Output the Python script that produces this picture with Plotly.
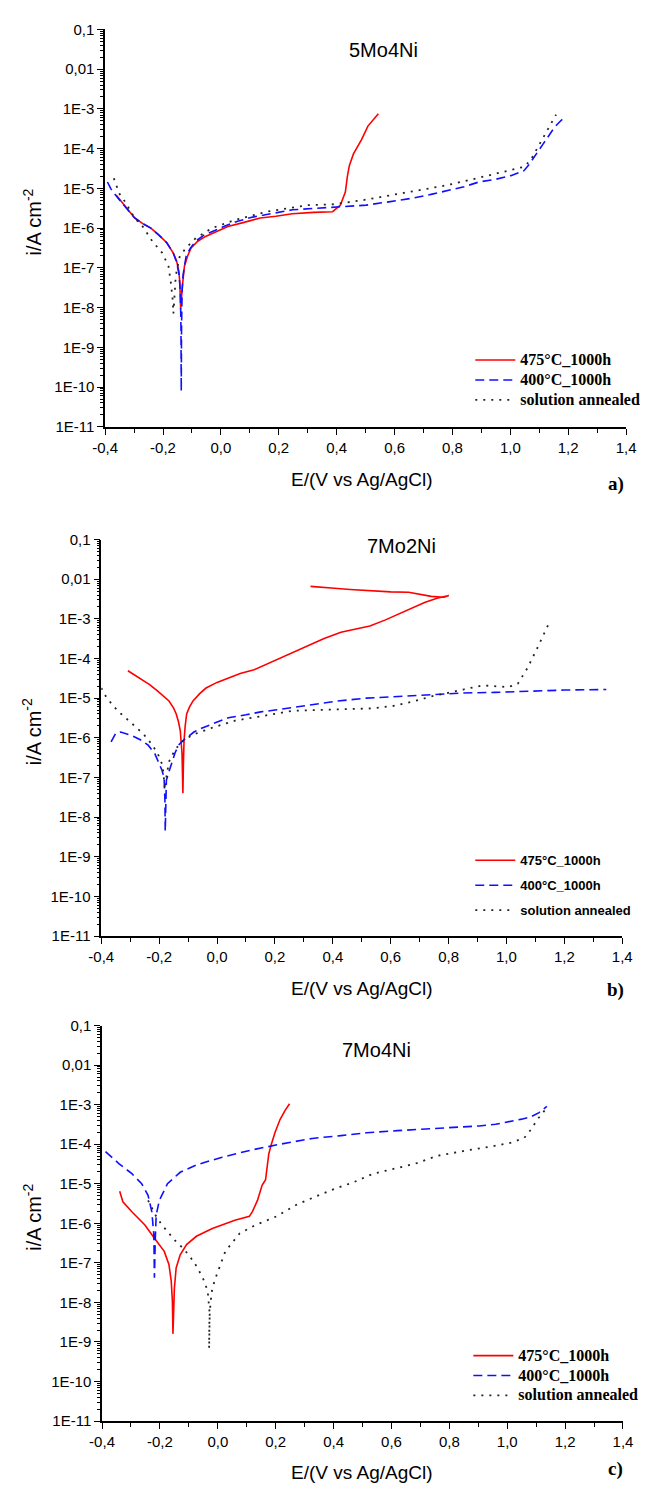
import plotly.graph_objects as go

# ---------------- data (E in V vs Ag/AgCl, i in A cm^-2) ----------------
# Panel a) 5Mo4Ni
E_a_475 = [-0.362, -0.330, -0.298, -0.270, -0.242, -0.215, -0.187, -0.165, -0.153, -0.145, -0.142, -0.139,
           -0.136, -0.133, -0.126, -0.115, -0.103, -0.080, -0.053, -0.015, 0.024, 0.080, 0.136, 0.190,
           0.247, 0.320, 0.386, 0.413, 0.430, 0.437, 0.444, 0.458, 0.472, 0.486, 0.508, 0.528, 0.544]
i_a_475 = [6.8e-6, 3.5e-6, 1.8e-6, 1.3e-6, 1.0e-6, 6.8e-7, 4.3e-7, 2.4e-7, 1.5e-7, 7.9e-8, 4.3e-8, 9.3e-9,
           2.0e-8, 3.5e-8, 1.1e-7, 2.0e-7, 3.2e-7, 4.7e-7, 6.2e-7, 8.3e-7, 1.1e-6, 1.4e-6, 1.8e-6, 2.0e-6,
           2.3e-6, 2.5e-6, 2.6e-6, 3.8e-6, 8.1e-6, 2.0e-5, 3.8e-5, 7.4e-5, 1.1e-4, 1.7e-4, 3.7e-4, 5.6e-4, 7.6e-4]

E_a_400 = [-0.392, -0.381, -0.362, -0.330, -0.298, -0.270, -0.242, -0.215, -0.187, -0.165, -0.153, -0.145,
           -0.140, -0.138, -0.137, -0.136, -0.134, -0.131, -0.126, -0.120, -0.105, -0.087, -0.060, -0.031,
           0.010, 0.058, 0.110, 0.158, 0.200, 0.247, 0.280, 0.340, 0.402, 0.502, 0.580, 0.669, 0.730,
           0.780, 0.840, 0.891, 0.950, 1.002, 1.047, 1.065, 1.080, 1.100, 1.113, 1.135, 1.152, 1.170, 1.186]
i_a_400 = [1.45e-5, 1.0e-5, 6.5e-6, 3.5e-6, 1.8e-6, 1.3e-6, 1.0e-6, 6.8e-7, 4.3e-7, 2.4e-7, 1.4e-7, 7.1e-8,
           2.5e-8, 3.2e-9, 7.9e-11, 3.2e-9, 2.5e-8, 6.3e-8, 1.1e-7, 2.0e-7, 3.2e-7, 4.7e-7, 6.6e-7, 8.3e-7,
           1.1e-6, 1.5e-6, 1.9e-6, 2.2e-6, 2.5e-6, 2.9e-6, 3.0e-6, 3.2e-6, 3.3e-6, 3.8e-6, 4.6e-6, 5.8e-6, 7.2e-6,
           8.9e-6, 1.1e-5, 1.45e-5, 1.7e-5, 2.1e-5, 2.8e-5, 4.0e-5, 6.0e-5, 9.5e-5, 1.3e-4, 2.2e-4, 3.4e-4, 4.7e-4, 6.0e-4]

E_a_sa = [-0.370, -0.362, -0.351, -0.331, -0.298, -0.270, -0.237, -0.203, -0.181, -0.173, -0.167, -0.164,
          -0.160, -0.156, -0.142, -0.120, -0.087, -0.031, 0.047, 0.158, 0.302, 0.391, 0.500, 0.613, 0.700,
          0.780, 0.870, 0.947, 1.000, 1.047, 1.069, 1.085, 1.102, 1.120, 1.136, 1.158]
i_a_sa = [1.8e-5, 1.26e-5, 7.4e-6, 4.6e-6, 1.8e-6, 1.1e-6, 4.7e-7, 2.4e-7, 1.1e-7, 4.3e-8, 1.7e-8, 7.1e-9,
          2.0e-8, 6.3e-8, 2.0e-7, 3.2e-7, 5.6e-7, 1.0e-6, 1.6e-6, 2.6e-6, 3.8e-6, 4.0e-6, 5.2e-6, 7.4e-6, 9.5e-6,
          1.2e-5, 1.7e-5, 2.3e-5, 2.8e-5, 3.5e-5, 5.0e-5, 7.9e-5, 1.3e-4, 2.2e-4, 3.7e-4, 7.2e-4]

# Panel b) 7Mo2Ni
E_b_475 = [-0.308, -0.285, -0.261, -0.233, -0.205, -0.185, -0.166, -0.150, -0.141, -0.133, -0.127, -0.121,
           -0.118, -0.116, -0.114, -0.110, -0.105, -0.095, -0.083, -0.060, -0.038, 0.000, 0.039, 0.080,
           0.128, 0.170, 0.217, 0.270, 0.317, 0.370, 0.428, 0.480, 0.528, 0.580, 0.628, 0.670, 0.717,
           0.760, 0.801, 0.784, 0.740, 0.700, 0.662, 0.600, 0.517, 0.460, 0.406, 0.360, 0.323]
i_b_475 = [4.9e-5, 3.8e-5, 3.0e-5, 2.2e-5, 1.5e-5, 1.15e-5, 8.5e-6, 5.6e-6, 4.0e-6, 2.5e-6, 1.5e-6, 4.0e-7,
           4.0e-8, 2.5e-7, 8.5e-7, 2.0e-6, 4.0e-6, 6.0e-6, 8.5e-6, 1.3e-5, 1.8e-5, 2.5e-5, 3.2e-5, 4.2e-5,
           5.2e-5, 7.1e-5, 1.0e-4, 1.5e-4, 2.2e-4, 3.2e-4, 4.6e-4, 5.5e-4, 6.6e-4, 9.3e-4, 1.35e-3, 1.8e-3, 2.6e-3,
           3.3e-3, 3.9e-3, 3.5e-3, 3.7e-3, 4.2e-3, 4.7e-3, 4.8e-3, 5.1e-3, 5.5e-3, 5.9e-3, 6.3e-3, 6.6e-3]

E_b_400 = [-0.366, -0.358, -0.350, -0.333, -0.310, -0.290, -0.265, -0.238, -0.215, -0.200, -0.190, -0.183,
           -0.180, -0.179, -0.177, -0.175, -0.166, -0.155, -0.145, -0.133, -0.120, -0.105, -0.080, -0.049,
           0.000, 0.039, 0.100, 0.151, 0.200, 0.262, 0.340, 0.417, 0.517, 0.630, 0.739, 0.851, 0.960,
           1.073, 1.200, 1.345]
i_b_400 = [7.9e-7, 1.0e-6, 1.3e-6, 1.4e-6, 1.26e-6, 1.1e-6, 8.9e-7, 6.5e-7, 4.0e-7, 2.2e-7, 1.5e-7, 1.0e-7,
           2.5e-8, 4.4e-9, 2.5e-8, 8.5e-8, 1.4e-7, 2.7e-7, 4.2e-7, 6.5e-7, 8.3e-7, 1.0e-6, 1.4e-6, 1.8e-6,
           2.5e-6, 3.2e-6, 3.8e-6, 4.5e-6, 5.0e-6, 5.8e-6, 7.1e-6, 8.5e-6, 1.0e-5, 1.1e-5, 1.2e-5, 1.35e-5, 1.4e-5,
           1.5e-5, 1.6e-5, 1.65e-5]

E_b_sa = [-0.400, -0.383, -0.358, -0.333, -0.305, -0.277, -0.255, -0.227, -0.205, -0.188, -0.183, -0.180,
          -0.177, -0.172, -0.166, -0.144, -0.116, -0.083, -0.016, 0.062, 0.151, 0.262, 0.417, 0.530, 0.606,
          0.680, 0.739, 0.800, 0.851, 0.917, 0.960, 1.006, 1.039, 1.073, 1.106, 1.134, 1.148]
i_b_sa = [1.8e-5, 1.07e-5, 6.3e-6, 4.1e-6, 2.7e-6, 1.8e-6, 1.26e-6, 7.1e-7, 4.0e-7, 2.0e-7, 8.5e-8, 5.0e-8,
          8.5e-8, 1.4e-7, 2.5e-7, 5.2e-7, 8.5e-7, 1.2e-6, 1.8e-6, 2.7e-6, 3.5e-6, 4.8e-6, 5.2e-6, 5.5e-6, 6.3e-6,
          8.3e-6, 1.1e-5, 1.4e-5, 1.65e-5, 2.1e-5, 2.0e-5, 1.9e-5, 2.3e-5, 5.8e-5, 1.8e-4, 4.7e-4, 8.1e-4]

# Panel c) 7Mo4Ni
E_c_475 = [-0.339, -0.328, -0.297, -0.252, -0.219, -0.185, -0.169, -0.161, -0.157, -0.155, -0.152, -0.150,
           -0.144, -0.130, -0.108, -0.074, -0.019, 0.059, 0.109, 0.120, 0.137, 0.153, 0.165, 0.176, 0.185,
           0.198, 0.215, 0.232, 0.248]
i_c_475 = [6.5e-6, 3.5e-6, 1.95e-6, 9.1e-7, 4.2e-7, 1.95e-7, 9.1e-8, 3.5e-8, 1.1e-8, 1.6e-9, 7.9e-9, 2.3e-8,
           7.4e-8, 1.6e-7, 2.9e-7, 4.7e-7, 7.4e-7, 1.2e-6, 1.5e-6, 2.0e-6, 3.8e-6, 9.1e-6, 1.26e-5, 5.6e-5, 1.0e-4,
           2.0e-4, 4.2e-4, 7.1e-4, 1.05e-3]

E_c_400 = [-0.388, -0.341, -0.297, -0.263, -0.241, -0.228, -0.221, -0.220, -0.219, -0.216, -0.213, -0.202,
           -0.174, -0.130, -0.074, 0.015, 0.115, 0.215, 0.326, 0.426, 0.515, 0.620, 0.737, 0.820, 0.903,
           0.960, 1.015, 1.050, 1.081, 1.110, 1.137]
i_c_400 = [6.5e-5, 3.2e-5, 1.8e-5, 1.0e-5, 5.1e-6, 1.95e-6, 5.1e-7, 1.26e-7, 4.2e-8, 4.0e-7, 1.6e-6, 3.8e-6,
           1.0e-5, 1.95e-5, 3.0e-5, 4.7e-5, 7.1e-5, 1.0e-4, 1.4e-4, 1.65e-4, 1.95e-4, 2.2e-4, 2.45e-4, 2.6e-4,
           2.9e-4, 3.2e-4, 3.8e-4, 4.3e-4, 4.9e-4, 6.3e-4, 9.1e-4]

E_c_sa = [-0.241, -0.227, -0.213, -0.195, -0.174, -0.150, -0.119, -0.095, -0.074, -0.052, -0.035, -0.028,
          -0.030, -0.029, -0.025, -0.019, -0.005, 0.026, 0.076, 0.131, 0.203, 0.270, 0.348, 0.403, 0.470,
          0.537, 0.610, 0.681, 0.759, 0.820, 0.881, 0.950, 1.015, 1.059, 1.081, 1.104, 1.131]
i_c_sa = [3.8e-6, 2.4e-6, 1.5e-6, 9.5e-7, 6.2e-7, 3.8e-7, 2.3e-7, 1.4e-7, 8.3e-8, 4.2e-8, 1.95e-8, 5.1e-9,
          6.8e-10, 4.0e-9, 1.0e-8, 2.3e-8, 4.7e-8, 1.95e-7, 5.6e-7, 9.1e-7, 1.5e-6, 2.9e-6, 5.1e-6, 7.4e-6, 1.1e-5,
          1.8e-5, 2.4e-5, 3.2e-5, 5.1e-5, 6.2e-5, 7.4e-5, 8.9e-5, 1.1e-4, 1.45e-4, 2.3e-4, 4.2e-4, 7.4e-4]

series_names = ["475°C_1000h", "400°C_1000h", "solution annealed"]
panel_titles = ["5Mo4Ni", "7Mo2Ni", "7Mo4Ni"]
panel_letters = ["a)", "b)", "c)"]
x_tick_vals = [-0.4, -0.2, 0.0, 0.2, 0.4, 0.6, 0.8, 1.0, 1.2, 1.4]
x_tick_text = ["-0,4", "-0,2", "0,0", "0,2", "0,4", "0,6", "0,8", "1,0", "1,2", "1,4"]
x_minor_vals = [-0.3, -0.1, 0.1, 0.3, 0.5, 0.7, 0.9, 1.1, 1.3]
y_tick_vals = [1e-11, 1e-10, 1e-9, 1e-8, 1e-7, 1e-6, 1e-5, 1e-4, 1e-3, 1e-2, 1e-1]
y_tick_text = ["1E-11", "1E-10", "1E-9", "1E-8", "1E-7", "1E-6", "1E-5", "1E-4", "1E-3", "0,01", "0,1"]

# ---------------- layout geometry (pixels) ----------------
W, H = 652, 1491
serif_bold = dict(family="Liberation Serif", size=13, weight="bold")
sans_bold = dict(family="Liberation Sans", size=13, weight="bold")
panels = [
    dict(xl=95.5, yt=20.7, yb=422.7, title_xy=(384, 41), xt_y=476, let_xy=(625, 480),
         leg_xy=(474, 340), leg_font=serif_bold, leg_px=16, gap=0),
    dict(xl=91.5, yt=536.7, yb=937.7, title_xy=(403, 543), xt_y=991, let_xy=(625, 992),
         leg_xy=(474, 846), leg_font=sans_bold, leg_px=13, gap=5),
    dict(xl=92.3, yt=1028.3, yb=1428.3, title_xy=(377, 1053), xt_y=1480, let_xy=(625, 1477),
         leg_xy=(472, 1347), leg_font=serif_bold, leg_px=16, gap=0),
]
PW = 540.0
XT_X = 362
YT_X = 20
YT_SHIFT = -6


def px(x):
    return x / W


def py(y):
    return 1 - y / H


data = [
    (E_a_475, i_a_475, E_a_400, i_a_400, E_a_sa, i_a_sa),
    (E_b_475, i_b_475, E_b_400, i_b_400, E_b_sa, i_b_sa),
    (E_c_475, i_c_475, E_c_400, i_c_400, E_c_sa, i_c_sa),
]

styles = [
    dict(color="#ff0000", width=1.6, dash="solid"),
    dict(color="#1010ff", width=1.6, dash="9px,5px"),
    dict(color="#222222", width=1.8, dash="2px,6px"),
]

fig = go.Figure()
minor_vals = [k * 10.0 ** e for e in range(-11, -1) for k in range(2, 10)]
annotations = []
legend_keys = ["legend", "legend2", "legend3"]
tickfont = dict(family="Liberation Sans", size=15, color="black")

for p, (pan, d) in enumerate(zip(panels, data)):
    sfx = "" if p == 0 else str(p + 1)
    for s in range(3):
        label = '<span style="font-size:%dpx">%s</span>' % (pan["leg_px"], series_names[s])
        fig.add_trace(go.Scatter(
            x=d[2 * s], y=d[2 * s + 1], mode="lines", name=label,
            line=styles[s], xaxis="x" + sfx, yaxis="y" + sfx,
            legend=legend_keys[p], legendgroup="p%d_s%d" % (p, s), showlegend=True))

    xdom = [px(pan["xl"]), px(pan["xl"] + PW)]
    ydom = [py(pan["yb"]), py(pan["yt"])]
    fig.update_layout(**{
        "xaxis" + sfx: dict(
            domain=xdom, anchor="y" + sfx, range=[-0.4, 1.4], tickmode="array",
            tickvals=x_tick_vals, ticktext=x_tick_text, ticks="outside", ticklen=6,
            tickwidth=1.3, tickcolor="black", showline=True, linecolor="black", linewidth=1.5,
            showgrid=False, zeroline=False, tickfont=tickfont,
            minor=dict(tickmode="array", tickvals=x_minor_vals,
                       ticks="outside", ticklen=4, tickwidth=1.2, tickcolor="black", showgrid=False)),
        "yaxis" + sfx: dict(
            domain=ydom, anchor="x" + sfx, type="log", range=[-11, -1], tickmode="array",
            tickvals=y_tick_vals, ticktext=y_tick_text, ticks="outside", ticklen=6,
            tickwidth=1.3, tickcolor="black", showline=True, linecolor="black", linewidth=1.5,
            showgrid=False, zeroline=False, tickfont=tickfont,
            minor=dict(tickmode="array", tickvals=minor_vals, ticks="outside", ticklen=3,
                       tickwidth=1, tickcolor="black", showgrid=False)),
        legend_keys[p]: dict(
            x=px(pan["leg_xy"][0]), y=py(pan["leg_xy"][1]), xanchor="left", yanchor="top",
            bgcolor="rgba(0,0,0,0)", borderwidth=0, font=dict(color="black", **pan["leg_font"]),
            itemwidth=40, tracegroupgap=pan["gap"]),
    })

    tx, ty = pan["title_xy"]
    annotations.append(dict(x=px(tx), y=py(ty), xref="paper", yref="paper", text=panel_titles[p],
                            xanchor="center", yanchor="middle", showarrow=False,
                            font=dict(family="Liberation Sans", size=20, color="black")))
    annotations.append(dict(x=px(XT_X), y=py(pan["xt_y"]), xref="paper", yref="paper",
                            text="E/(V vs Ag/AgCl)", xanchor="center", yanchor="middle", showarrow=False,
                            font=dict(family="Liberation Sans", size=19, color="black")))
    annotations.append(dict(x=px(YT_X), y=py((pan["yt"] + pan["yb"]) / 2 + YT_SHIFT), xref="paper", yref="paper",
                            text="i/A cm<sup>-2</sup>", textangle=-90, xanchor="center", yanchor="middle",
                            showarrow=False, font=dict(family="Liberation Sans", size=20, color="black")))
    lx, ly = pan["let_xy"]
    annotations.append(dict(x=px(lx), y=py(ly), xref="paper", yref="paper", text="<b>" + panel_letters[p] + "</b>",
                            xanchor="center", yanchor="middle", showarrow=False,
                            font=dict(family="Liberation Serif", size=19, color="black")))

fig.update_layout(
    width=W, height=H, margin=dict(l=0, r=0, t=0, b=0),
    paper_bgcolor="white", plot_bgcolor="white",
    annotations=annotations,
)

fig.write_html("out.html")
